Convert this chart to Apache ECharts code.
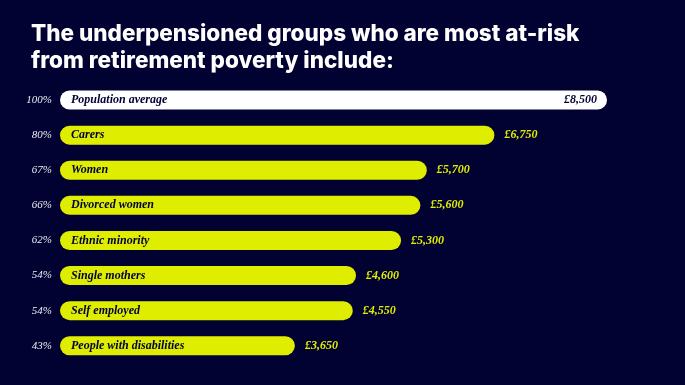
<!DOCTYPE html>
<html><head><meta charset="utf-8">
<script src="https://cdn.jsdelivr.net/npm/echarts@6/dist/echarts.min.js"></script>
<style>html,body{margin:0;padding:0;background:#010132;}#c{width:685px;height:385px;}</style>
</head><body><div id="c"></div>
<script>
const categories = ['Population average','Carers','Women','Divorced women','Ethnic minority','Single mothers','Self employed','People with disabilities'];
const values = [8500, 6750, 5700, 5600, 5300, 4600, 4550, 3650];
const percents = ['100%','80%','67%','66%','62%','54%','54%','43%'];
const titleLines = ['The underpensioned groups who are most at-risk','from retirement poverty include:'];

const NAVY = '#010132', LIME = '#dfee00';
const fmt = v => '£' + v.toLocaleString('en-GB');
const serif = '"Liberation Serif", serif';

const chart = echarts.init(document.getElementById('c'));
chart.setOption({
  backgroundColor: NAVY,
  animation: false,
  title: {
    text: titleLines.join('\n'), left: 26, top: 16,
    textStyle: {color: '#ffffff', fontFamily: 'Inter', fontWeight: 800, fontSize: 22.5, lineHeight: 27}
  },
  grid: {left: 60, right: 78, top: 82.5, bottom: 21.7},
  xAxis: {type: 'value', min: 0, max: 8500, show: false},
  yAxis: {
    type: 'category', data: categories, inverse: true,
    axisLine: {show: false}, axisTick: {show: false}, splitLine: {show: false},
    axisLabel: {
      formatter: (v, i) => percents[i], margin: 8,
      color: '#eeeef4', fontFamily: serif, fontStyle: 'italic', fontSize: 11
    }
  },
  series: [{
    type: 'bar', barWidth: 19,
    data: values.map((v, i) => ({
      value: v,
      itemStyle: i === 0 ? {color: '#ffffff'} : {color: LIME}
    })),
    itemStyle: {borderRadius: 9.5},
    label: {
      show: true, position: 'insideLeft', distance: 11,
      formatter: p => categories[p.dataIndex],
      color: NAVY, fontFamily: serif, fontStyle: 'italic', fontWeight: 'bold', fontSize: 12
    }
  }, {
    type: 'bar', barWidth: 19, barGap: '-100%', silent: true,
    data: values.map((v, i) => ({
      value: v,
      label: i === 0 ? {position: 'insideRight', distance: 10, color: NAVY} : {}
    })),
    itemStyle: {color: 'rgba(0,0,0,0)'},
    label: {
      show: true, position: 'right', distance: 10,
      formatter: p => fmt(p.value),
      color: LIME, fontFamily: serif, fontStyle: 'italic', fontWeight: 'bold', fontSize: 12
    }
  }]
});
</script></body></html>
